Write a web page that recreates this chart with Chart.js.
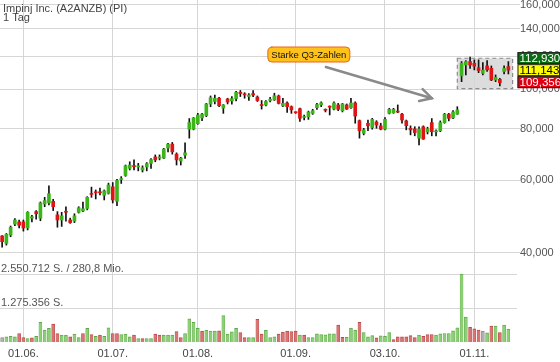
<!DOCTYPE html>
<html><head><meta charset="utf-8">
<script src="https://cdn.jsdelivr.net/npm/chart.js@4.4.1/dist/chart.umd.min.js"></script>
<style>html,body{margin:0;padding:0;background:#fff;overflow:hidden}#wrap{width:560px;height:362px}</style>
</head><body><div id="wrap"><canvas id="c" width="560" height="362"></canvas></div>
<script>
const titleText = 'Impinj Inc. (A2ANZB) (PI)';
const periodText = '1 Tag';
const monthTickIndex = [5, 26, 46, 69, 90, 111];
const monthTickLabels = ['01.06.', '01.07.', '01.08.', '01.09.', '03.10.', '01.11.'];
const priceTicks = [40, 60, 80, 100, 120, 140, 160];

const open = [44.0,42.2,44.2,47.0,47.6,47.6,46.0,48.6,50.4,48.6,
52.6,52.9,53.4,49.5,48.1,50.5,48.1,47.8,50.2,50.6,
51.3,55.8,56.3,56.3,55.2,55.8,57.9,53.4,60.3,61.7,
64.2,65.2,64.7,63.6,64.7,66.0,68.4,68.0,68.0,71.9,
73.5,69.5,66.9,69.1,79.9,79.9,82.4,85.1,86.2,92.0,
93.3,95.0,89.9,94.6,93.6,94.8,98.2,97.1,95.9,97.5,
95.6,91.7,91.5,93.8,94.1,96.2,91.0,92.5,90.6,87.9,
89.6,85.3,85.6,87.3,90.1,91.5,89.1,90.8,89.4,91.5,
88.6,91.5,90.1,92.5,83.8,78.1,82.6,80.6,83.2,81.4,
79.9,87.3,87.6,88.4,86.9,83.7,80.3,80.0,76.0,81.0,
78.7,82.9,78.7,79.2,82.9,86.9,85.1,86.9,107.6,114.4,
116.6,115.5,112.7,109.2,113.8,112.3,105.2,105.6,110.3,113.4];
const high = [44.1,44.6,46.5,48.5,48.1,48.1,50.4,49.4,50.7,53.2,
54.6,58.2,54.0,50.4,50.2,51.8,48.6,49.8,51.8,53.2,
54.8,57.8,56.9,57.5,56.9,59.1,59.3,60.4,61.3,65.4,
66.6,67.3,66.0,65.1,66.3,67.8,69.2,69.2,71.8,73.8,
74.2,70.0,68.3,74.0,84.8,85.3,87.3,87.3,92.3,96.2,
96.7,95.5,91.7,95.0,95.9,98.8,99.2,98.0,97.5,99.2,
96.2,93.8,93.8,95.5,97.7,96.7,95.0,93.1,91.0,88.0,
89.9,86.5,88.4,89.3,92.3,93.1,89.5,91.0,93.1,92.3,
92.3,92.0,95.0,93.1,84.1,80.3,84.1,84.9,83.8,82.6,
85.3,89.8,89.8,91.5,87.3,84.1,81.4,81.0,81.0,81.4,
80.8,84.8,79.6,83.7,87.3,87.3,88.6,90.6,116.6,117.2,
119.5,117.7,117.7,115.9,117.2,113.8,108.2,106.2,113.8,116.6];
const low = [41.3,41.8,43.8,46.6,46.0,45.2,45.5,47.6,48.3,47.9,
51.8,52.3,50.7,46.2,46.4,47.8,47.2,47.4,50.0,50.4,
50.9,54.6,54.1,55.3,53.8,55.6,52.9,52.1,59.0,61.4,
63.6,63.6,63.3,62.9,63.3,64.2,66.6,67.3,67.8,70.4,
69.5,65.4,65.4,67.9,76.0,79.6,82.1,83.8,85.7,90.6,
92.0,90.6,87.3,92.0,91.9,93.6,95.9,95.0,93.8,95.8,
93.3,89.4,91.0,93.1,93.8,92.0,90.6,87.7,87.3,87.3,
83.4,84.1,84.4,86.8,89.3,90.6,88.0,86.5,89.0,88.6,
88.0,89.2,89.8,82.6,76.0,77.4,79.2,79.9,80.3,79.6,
79.6,87.0,87.3,87.6,82.6,79.6,77.4,77.0,73.2,75.5,
77.8,77.0,77.0,78.8,82.6,83.7,84.8,86.8,104.2,108.2,
112.3,111.3,109.6,108.2,110.3,104.8,104.2,101.7,108.8,108.8];
const close = [42.6,44.4,46.2,48.1,46.7,46.0,50.2,49.0,49.8,52.9,
53.6,55.7,51.8,48.1,49.2,50.2,47.4,49.2,51.5,51.2,
54.6,55.5,56.0,56.0,56.6,58.5,53.8,60.0,60.6,65.1,
65.4,64.8,65.1,64.4,65.9,67.4,67.3,68.4,71.5,73.5,
70.4,67.3,68.0,70.0,82.9,85.1,86.5,86.9,92.0,95.3,
95.0,91.1,91.5,93.0,94.8,98.2,97.5,96.8,96.7,96.7,
93.8,91.2,93.3,94.5,96.3,92.3,92.3,90.6,89.0,87.6,
84.9,85.6,87.9,88.6,91.7,92.6,88.8,90.4,92.5,89.3,
92.0,89.4,92.5,86.0,79.2,79.6,81.4,84.4,81.8,79.9,
84.4,89.3,89.3,87.9,84.1,81.5,79.6,78.4,80.0,75.6,
80.1,78.8,79.1,82.9,86.9,84.9,88.0,89.0,115.5,116.6,
114.4,113.6,110.9,111.2,111.3,105.2,106.8,103.6,112.3,111.1];
const volume = [166000,191000,217000,191000,319000,166000,128000,153000,217000,740000,
446000,510000,676000,319000,255000,255000,191000,293000,166000,319000,
510000,281000,217000,255000,217000,536000,319000,319000,281000,293000,
191000,255000,128000,128000,128000,128000,293000,255000,255000,255000,
255000,395000,166000,319000,867000,740000,510000,408000,446000,408000,
408000,421000,995000,293000,383000,510000,357000,166000,166000,166000,
854000,293000,434000,166000,191000,293000,370000,408000,395000,408000,
255000,255000,166000,166000,306000,281000,268000,306000,306000,638000,
179000,179000,523000,446000,740000,357000,191000,242000,153000,230000,
217000,357000,89000,191000,191000,191000,242000,166000,255000,217000,
281000,281000,255000,306000,319000,319000,421000,536000,2550712,931000,
548000,497000,446000,408000,344000,599000,599000,357000,638000,485000];
// 1 = close above previous close, -1 = below, 0 = unchanged
const volumeTrend = [0,1,1,1,-1,-1,1,-1,1,1,
1,1,-1,-1,1,1,-1,1,1,-1,
1,-1,1,-1,1,1,-1,-1,1,1,
1,-1,1,-1,1,1,-1,-1,1,1,
1,-1,-1,1,1,1,1,-1,1,1,
1,-1,1,1,1,1,-1,-1,1,1,
-1,-1,1,1,1,-1,-1,-1,-1,-1,
1,-1,1,1,1,1,1,1,1,-1,
-1,1,1,1,-1,1,1,1,-1,1,
1,1,-1,-1,-1,-1,-1,-1,1,-1,
-1,-1,1,1,1,1,1,1,1,1,
-1,-1,-1,0,1,-1,1,-1,1,1];
const volumeMax = 2550712;
const volumeLevels = [2550712, 1275356];
const volumeLevelLabels = ['2.550.712 S. / 280,8 Mio.', '1.275.356 S.'];
const quoteValues = [112.930, 111.143, 109.356];
const noteText = 'Starke Q3-Zahlen';
const notePos = [72.1, 121.3];
const arrowFrom = [76.1, 113.1];
const arrowTo = [101.0, 95.0];
const zoomBox = {from: 107, to: 120, low: 100.2, high: 118.8};

const categories = Array.from({length: open.length + 2}, (_, i) => String(i));
const GREEN = '#3bb51a', RED = '#e01414';
const fmt = v => v.toFixed(3).replace('.', ',');
const FONT = "'Liberation Sans', Arial, sans-serif";
Chart.defaults.font.family = FONT;

const overlay = {
  id: 'overlay',
  beforeDatasetsDraw(chart) {
    const {ctx, chartArea, scales: {x, y, yv}} = chart;
    ctx.save();
    ctx.strokeStyle = '#d6d6d6'; ctx.lineWidth = 1;
    volumeLevels.forEach(v => {
      const py = Math.round(yv.getPixelForValue(v)) + 0.5;
      ctx.beginPath(); ctx.moveTo(chartArea.left, py); ctx.lineTo(chartArea.right - 2, py); ctx.stroke();
    });
    const bx0 = x.getPixelForValue(zoomBox.from), bx1 = x.getPixelForValue(zoomBox.to);
    const by0 = y.getPixelForValue(zoomBox.high), by1 = y.getPixelForValue(zoomBox.low);
    ctx.fillStyle = 'rgba(214,214,214,0.85)';
    ctx.fillRect(bx0, by0, bx1 - bx0, by1 - by0);
    ctx.setLineDash([4, 3]); ctx.strokeStyle = '#8c8c8c'; ctx.lineWidth = 1.2;
    ctx.strokeRect(bx0, by0, bx1 - bx0, by1 - by0);
    ctx.restore();
  },
  afterDatasetsDraw(chart) {
    const {ctx, chartArea, scales: {x, y, yv}} = chart;
    ctx.save();
    ctx.font = '11px ' + FONT; ctx.fillStyle = '#555'; ctx.textBaseline = 'alphabetic'; ctx.textAlign = 'left';
    volumeLevels.forEach((v, i) => {
      ctx.fillText(volumeLevelLabels[i], 1, yv.getPixelForValue(v) - 2);
    });
    ctx.fillStyle = '#444';
    ctx.fillText(titleText, 3, 11.5);
    ctx.fillText(periodText, 3, 21);
    const ax0 = x.getPixelForValue(arrowFrom[0]), ay0 = y.getPixelForValue(arrowFrom[1]);
    const ax1 = x.getPixelForValue(arrowTo[0]), ay1 = y.getPixelForValue(arrowTo[1]);
    ctx.strokeStyle = '#8a8a8a'; ctx.lineWidth = 2.5; ctx.lineCap = 'round';
    ctx.beginPath(); ctx.moveTo(ax0, ay0); ctx.lineTo(ax1, ay1); ctx.stroke();
    const ang = Math.atan2(ay1 - ay0, ax1 - ax0);
    ctx.beginPath();
    ctx.moveTo(ax1 - 13 * Math.cos(ang - 0.5), ay1 - 13 * Math.sin(ang - 0.5));
    ctx.lineTo(ax1, ay1);
    ctx.lineTo(ax1 - 13 * Math.cos(ang + 0.5), ay1 - 13 * Math.sin(ang + 0.5));
    ctx.stroke();
    ctx.font = '9.5px ' + FONT;
    const nx = x.getPixelForValue(notePos[0]), ny = y.getPixelForValue(notePos[1]);
    const tw = ctx.measureText(noteText).width + 7, th = 15;
    ctx.beginPath(); ctx.roundRect(nx - tw / 2, ny - th / 2, tw, th, 4);
    ctx.fillStyle = '#ffc21a'; ctx.fill(); ctx.strokeStyle = '#e8641c'; ctx.lineWidth = 1; ctx.stroke();
    ctx.fillStyle = '#111'; ctx.textAlign = 'center'; ctx.textBaseline = 'middle';
    ctx.fillText(noteText, nx, ny + 0.5);
    const midY = y.getPixelForValue(quoteValues[1]);
    const h = 12, qx = chartArea.right - 1.5;
    const bgs = ['#0b6b12', '#ffff00', '#e00012'], fgs = ['#fff', '#000', '#fff'];
    ctx.font = '11.5px ' + FONT; ctx.textAlign = 'left'; ctx.textBaseline = 'middle';
    quoteValues.forEach((v, i) => {
      const top = midY - h / 2 + (i - 1) * h;
      ctx.fillStyle = bgs[i]; ctx.fillRect(qx, top, 560 - qx, h);
      ctx.strokeStyle = '#222'; ctx.lineWidth = 1; ctx.strokeRect(qx + 0.5, top + 0.5, 560 - qx - 1, h - 1);
      ctx.fillStyle = fgs[i]; ctx.fillText(fmt(v), qx + 2, top + h / 2 + 0.5);
    });
    ctx.restore();
  }
};

new Chart(document.getElementById('c'), {
  type: 'bar',
  data: {
    labels: categories,
    datasets: [
      { label: 'wick', data: low.map((l, i) => [l, high[i]]), backgroundColor: '#111', barThickness: 1, grouped: false, yAxisID: 'y', order: 2 },
      { label: 'body', data: open.map((o, i) => [o, close[i]]), backgroundColor: open.map((o, i) => close[i] >= o ? GREEN : RED),
        barThickness: 3, minBarLength: 1, grouped: false, yAxisID: 'y', order: 1 },
      { label: 'volume', data: volume, yAxisID: 'yv', grouped: false, barThickness: 3, order: 3,
        backgroundColor: volumeTrend.map(t => t > 0 ? '#8dcf77' : t < 0 ? '#d87474' : '#b0b0b0'),
        borderColor: volumeTrend.map(t => t > 0 ? '#5fa84a' : t < 0 ? '#b84a4a' : '#8c8c8c'), borderWidth: {top: 1, left: 0.5, right: 0.5, bottom: 0} }
    ]
  },
  options: {
    responsive: false, animation: false, devicePixelRatio: 1,
    layout: {padding: 0},
    plugins: {legend: {display: false}, tooltip: {enabled: false}},
    scales: {
      x: {
        type: 'category', offset: true,
        grid: {offset: false, drawTicks: false, color: c => monthTickIndex.includes(c.index) ? '#d6d6d6' : 'rgba(0,0,0,0)'},
        border: {display: false},
        ticks: {autoSkip: false, maxRotation: 0, minRotation: 0, padding: 5, color: '#444', font: {size: 11},
          callback: (v, i) => { const k = monthTickIndex.indexOf(i); return k < 0 ? '' : monthTickLabels[k]; }},
        afterFit: s => { s.height = 20; s.paddingLeft = 0; s.paddingRight = 0; }
      },
      y: {
        type: 'logarithmic', position: 'right', min: 24.32, max: 164.5,
        grid: {color: '#d6d6d6', tickLength: 1},
        border: {display: false},
        ticks: {padding: 0, color: '#555', font: {size: 11}, callback: v => fmt(v)},
        afterBuildTicks: s => { s.ticks = priceTicks.map(v => ({value: v})); },
        afterFit: s => { s.width = 41; s.paddingTop = 0; s.paddingBottom = 0; }
      },
      yv: {type: 'linear', display: false, min: 0, max: volumeMax * 5.03}
    }
  },
  plugins: [overlay]
});
</script></body></html>
